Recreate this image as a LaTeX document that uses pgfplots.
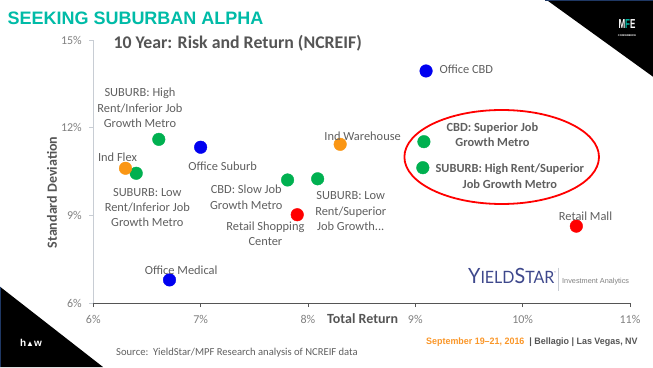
\documentclass[border=0pt]{standalone}
\usepackage{fontspec}
\setmainfont{Carlito}
\newfontfamily\arial{Liberation Sans}
\newfontfamily\lato{Lato}
\usepackage{graphicx}
\usepackage{pgfplots}
\pgfplotsset{compat=1.18}
\definecolor{mfeteal}{RGB}{0,187,167}
\definecolor{cblue}{RGB}{0,0,240}
\definecolor{cgreen}{RGB}{0,176,80}
\definecolor{corange}{RGB}{250,150,20}
\definecolor{cred}{RGB}{255,0,0}
\definecolor{lblgray}{RGB}{95,95,95}
\definecolor{darkg}{RGB}{85,85,85}
\definecolor{tickgray}{RGB}{128,128,128}
\definecolor{axlight}{RGB}{200,205,212}
\definecolor{navyline}{RGB}{31,56,100}
\definecolor{ysblue}{RGB}{62,72,140}
\definecolor{footorange}{RGB}{250,150,40}
\newcommand{\pnt}[7]{%
\addplot[only marks, mark=*, mark size=6.3pt, color=#1,
  nodes near coords={#6},
  every node near coord/.style={anchor=center, xshift=#4pt, yshift=#5pt, align=center, text=lblgray,
    font=\fontsize{12.4}{15.3}\selectfont#7, inner sep=0pt}]
  coordinates {(#2,#3)};}
\begin{document}
\begin{tikzpicture}[x=1pt,y=1pt]
\useasboundingbox (0,0) rectangle (653,367);
% decorative corners
\fill[black] (546.7,367) -- (653,367) -- (653,290.3) -- cycle;
\fill[navyline] (545,365.5) rectangle (653,367);
\fill[black] (0,80.3) -- (0,0) -- (103,0) -- cycle;
\fill[navyline] (0,0) rectangle (1.2,80.3);
\node[text=white, font=\arial\bfseries\fontsize{13}{13}\selectfont, inner sep=0pt] at (627,343) {\scalebox{0.62}[1]{M\textcolor{mfeteal}{F}E}};
\node[text=white, font=\arial\bfseries\fontsize{2.6}{3}\selectfont, inner sep=0pt] at (627,331.5) {CONFERENCE};
\node[text=white, font=\arial\bfseries\fontsize{10}{10}\selectfont, inner sep=0pt] at (31,24.3) {h\raisebox{0.3pt}{\fontsize{8}{8}\selectfont ▲}w};
% titles
\node[anchor=base west, inner sep=0pt, text=mfeteal, font=\arial\bfseries\fontsize{18}{18}\selectfont] at (7.3,342) {SEEKING SUBURBAN ALPHA};
\node[anchor=base west, inner sep=0pt, text=darkg, font=\bfseries\fontsize{17.8}{18}\selectfont] at (113.3,318.7) {10 Year: Risk and Return (NCREIF)};
\begin{axis}[
  at={(93.3pt,64pt)}, anchor=south west,
  scale only axis, width=536.7pt, height=263pt,
  xmin=6, xmax=11, ymin=6, ymax=15,
  clip=false,
  axis x line=bottom, axis y line=left,
  axis line style={-},
  x axis line style={draw=darkg, line width=0.9pt},
  y axis line style={draw=axlight, line width=0.8pt},
  xtick={6,7,8,9,10,11}, xticklabels={6\%,7\%,8\%,9\%,10\%,11\%},
  ytick={6,9,12,15}, yticklabels={6\%,9\%,12\%,15\%},
  tick align=outside, major tick length=4pt,
  x tick style={draw=darkg, line width=0.8pt},
  y tick style={draw=axlight, line width=0.8pt},
  ticklabel style={font=\fontsize{12}{14}\selectfont, text=tickgray},
  xticklabel style={yshift=-4.5pt},
  yticklabel style={xshift=-4pt},
]
\pnt{cblue}{9.10}{13.94}{40.3}{1.5}{Office CBD}{}
\pnt{cgreen}{6.61}{11.60}{-18.8}{31.6}{SUBURB: High\\Rent/Inferior Job\\Growth Metro}{}
\pnt{cblue}{7.00}{11.33}{22}{-18.7}{Office Suburb}{}
\pnt{cgreen}{6.40}{10.44}{11.1}{-34.4}{SUBURB: Low\\Rent/Inferior Job\\Growth Metro}{}
\pnt{corange}{6.30}{10.61}{-8}{10.6}{Ind Flex}{}
\pnt{cgreen}{7.81}{10.21}{-41.3}{-17.2}{CBD: Slow Job\\Growth Metro}{}
\pnt{cgreen}{8.09}{10.25}{33.1}{-32.3}{SUBURB: Low\\Rent/Superior\\Job Growth...}{}
\pnt{cred}{7.90}{9.02}{-31.8}{-19}{Retail Shopping\\Center}{}
\pnt{corange}{8.30}{11.43}{22.4}{7.6}{Ind Warehouse}{}
\pnt{cgreen}{9.08}{11.52}{68.5}{6.9}{CBD: Superior Job\\Growth Metro}{\bfseries}
\pnt{cgreen}{9.07}{10.63}{87}{-8.5}{SUBURB: High Rent/Superior\\Job Growth Metro}{\bfseries}
\pnt{cred}{10.50}{8.63}{9.2}{10}{Retail Mall}{}
\pnt{cblue}{6.71}{6.79}{11.7}{10}{Office Medical}{}
\end{axis}
% highlight ellipse
\draw[cred, line width=1.8pt] (501.7,210) ellipse [x radius=97.3, y radius=47];
% axis titles
\node[anchor=base west, inner sep=0pt, text=darkg, font=\bfseries\fontsize{14}{16}\selectfont] at (327,43.8) {Total Return};
\node[rotate=90, inner sep=0pt, text=darkg, font=\bfseries\fontsize{14}{16}\selectfont] at (52,174.5) {Standard Deviation};
% logo
\node[anchor=base west, inner sep=0pt, text=ysblue] at (468,83.7) {\scalebox{0.94}[1]{\lato\fontsize{21}{21}\selectfont Y\fontsize{17}{17}\selectfont IELD\fontsize{21}{21}\selectfont S\fontsize{17}{17}\selectfont TAR}\raisebox{9pt}{\fontsize{4}{4}\selectfont\textregistered}};
\draw[axlight, line width=0.8pt] (558.3,99.3) -- (558.3,76);
\node[anchor=west, inner sep=0pt, text=tickgray, font=\arial\fontsize{7.3}{8}\selectfont] at (562,85) {Investment Analytics};
% footer
\node[anchor=west, inner sep=0pt, text=lblgray, font=\fontsize{10.6}{12}\selectfont] at (116,14) {Source:\ \ YieldStar/MPF Research analysis of NCREIF data};
\node[anchor=west, inner sep=0pt, text=darkg, font=\arial\bfseries\fontsize{9.3}{10}\selectfont] at (426,25.3) {\scalebox{0.96}[1]{\textcolor{footorange}{September 19–21, 2016} \ | Bellagio | Las Vegas, NV}};
\end{tikzpicture}
\end{document}
